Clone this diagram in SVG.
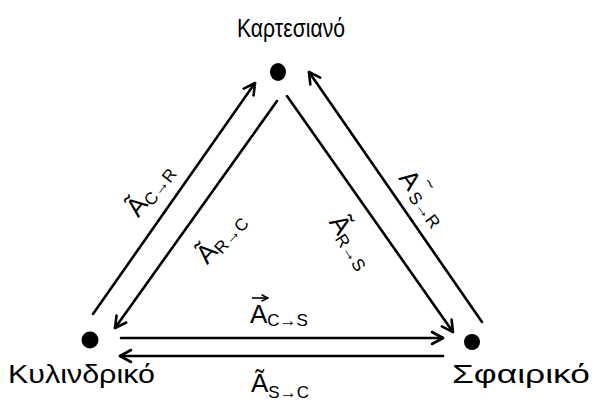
<svg xmlns="http://www.w3.org/2000/svg" width="596" height="404" viewBox="0 0 596 404">
<defs>
<marker id="ah" viewBox="0 0 16 16" markerUnits="userSpaceOnUse" markerWidth="16" markerHeight="16" refX="14" refY="8" orient="auto">
<path d="M3,2 L14,8 L3,14" fill="none" stroke="#000" stroke-width="2.6" stroke-linecap="round" stroke-linejoin="round"/>
</marker>
<marker id="sah" viewBox="0 0 8 8" markerUnits="userSpaceOnUse" markerWidth="8" markerHeight="8" refX="7" refY="4" orient="auto">
<path d="M1,1 L7,4 L1,7" fill="none" stroke="#000" stroke-width="1.5" stroke-linecap="round"/>
</marker>
<style>
.ln{stroke:#000;stroke-width:2.6;fill:none;stroke-linecap:round;marker-end:url(#ah)}
.nl{font-family:"Liberation Sans","DejaVu Sans",sans-serif;font-size:25px;fill:#000}
.el{font-family:"Liberation Sans","DejaVu Sans",sans-serif;font-size:26px;fill:#000}
.sb{font-size:17px}
.dot{fill:#000}
</style>
</defs>
<rect width="596" height="404" fill="#fff"/>
<g id="connectors">
<line class="ln" x1="93" y1="314" x2="255" y2="83"/>
<line class="ln" x1="277" y1="101" x2="115" y2="328"/>
<line class="ln" x1="287" y1="96" x2="453" y2="332"/>
<line class="ln" x1="482" y1="322" x2="309" y2="72"/>
<line class="ln" x1="121" y1="338" x2="443" y2="338"/>
<line class="ln" x1="443" y1="356" x2="120" y2="356"/>
<g id="labels">
<text class="el" transform="translate(150,190) rotate(-52)" text-anchor="middle" y="8">Ã<tspan class="sb" dy="4">C→R</tspan></text>
<text class="el" transform="translate(221,238) rotate(-48)" text-anchor="middle" y="8">Ã<tspan class="sb" dy="4">R→C</tspan></text>
<text class="el" transform="translate(351,242) rotate(57)" text-anchor="middle" y="8">Ã<tspan class="sb" dy="4">R→S</tspan></text>
<text class="el" transform="translate(423,198) rotate(53)" text-anchor="middle" y="8">A<tspan font-size="18" dy="-16" dx="1">~</tspan><tspan class="sb" dy="20" dx="-8">S→R</tspan></text>
<text class="el" x="250" y="323">A<tspan class="sb" dy="3">C→S</tspan></text>
<line x1="252" y1="298" x2="268" y2="298" stroke="#000" stroke-width="1.6" marker-end="url(#sah)"/>
<text class="el" x="251" y="392">Ã<tspan class="sb" dy="6">S→C</tspan></text>
</g>
</g>
<g id="node-kartesiano">
<ellipse class="dot" cx="278" cy="72" rx="8" ry="9"/>
<text class="nl" x="237" y="37" textLength="108" lengthAdjust="spacingAndGlyphs">Καρτεσιανό</text>
</g>
<g id="node-kylindriko">
<circle class="dot" cx="90" cy="340" r="8.5"/>
<text class="nl" x="8" y="383" textLength="147" lengthAdjust="spacingAndGlyphs">Κυλινδρικό</text>
</g>
<g id="node-sfairiko">
<circle class="dot" cx="472" cy="342" r="8"/>
<text class="nl" x="452" y="383" textLength="138" lengthAdjust="spacingAndGlyphs">Σφαιρικό</text>
</g>
</svg>
